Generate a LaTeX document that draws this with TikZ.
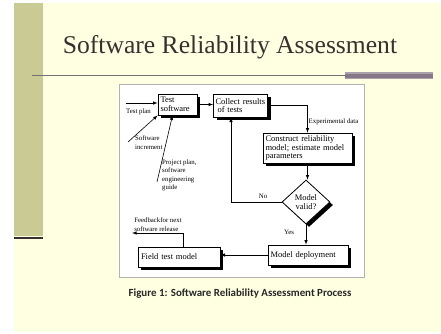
\documentclass[tikz,border=0pt]{standalone}
\usepackage{fontspec}
\setmainfont{Liberation Serif}
\newfontfamily\capfont{Carlito}
\usepackage{tikz}
\usetikzlibrary{positioning,shapes.geometric,shadows}
\definecolor{slidebg}{HTML}{FFFFE2}
\definecolor{stripe}{HTML}{CACA95}
\definecolor{titlecol}{HTML}{3A2F30}
\definecolor{barcol}{HTML}{877888}

\begin{document}
\begin{tikzpicture}[x=1pt, y=-1pt,
    box/.style={draw, thick, fill=white, align=left, inner sep=2pt,
      drop shadow={shadow xshift=3pt, shadow yshift=-3pt, fill=black, opacity=1},
      font=\fontsize{8.5}{8.8}\selectfont},
    lbl/.style={align=left, inner sep=0pt, font=\fontsize{6.8}{8.5}\selectfont},
    conn/.style={semithick, ->, >=latex}]
          \useasboundingbox (0,0) rectangle (441,333);
          \fill[white] (0,0) rectangle (441,333);
          \fill[slidebg] (14,3) rectangle (441,332);
          \fill[stripe] (14,3) rectangle (43,236);
          \fill[titlecol] (14,236.5) rectangle (43,239);
          \draw[gray!90!black, line width=1pt] (32,75) -- (345,75);
          \fill[barcol!70] (345,72) rectangle (433,79);
          \fill[barcol] (345,73.5) rectangle (433,77.5);
          \node[anchor=base, text=titlecol, font=\fontsize{25.6}{28}\selectfont] (title) at (230,53) {Software Reliability Assessment};
          \draw[black!30, fill=white] (119,84) rectangle (364,277);
          % boxes
          \node[box, minimum width=39pt, minimum height=21pt, text width=34pt] (test) at (177.5,104.5) {Test\\software};
          \node[box, minimum width=53pt, minimum height=23pt, text width=50pt] (collect) at (240.5,105.5) {Collect results\\\hspace*{2pt}of tests};
          \node[box, minimum width=89pt, minimum height=30pt, text width=84pt] (construct) at (307.5,148) {Construct reliability\\model; estimate model\\parameters};
          \node[box, diamond, aspect=1.1, minimum width=48pt, minimum height=44pt, inner sep=0pt, align=center] (valid) at (306,202) {Model\\valid?};
          \node[box, minimum width=80pt, minimum height=20pt, text width=75pt] (deploy) at (308,255) {Model deployment\\[3pt]};
          \node[box, minimum width=82pt, minimum height=20pt, text width=76pt] (field) at (179,257) {Field test model};
          % inputs
          \coordinate (tp) at (126,103);
          \coordinate (si) at (128,142);
          \coordinate (pp) at (157,182);
          \coordinate (fb) at (132,233);
          \draw[conn] (tp) -- (tp -| test.west);
          \draw[conn] (si) -- (test.south west);
          \draw[conn] (pp) -- ([xshift=-5pt]test.south);
          \node[lbl] (tplabel) at (138.5,112) {Test plan};
          \node[lbl, anchor=west] (silabel) at (135,142.5) {Software\\increment};
          \node[lbl, anchor=west] (pplabel) at (162,175.5) {Project plan,\\software\\engineering\\guide};
          % flow
          \draw[conn] (test.east) -- (test.east -| collect.west);
          \draw[conn] (collect.east) -| (construct.north);
          \node[lbl, anchor=west] (edlabel) at (308.5,122) {Experimental data};
          \draw[conn] (construct.south) -- (construct.south |- valid.north);
          \draw[conn] (valid.west) -| ([xshift=-9.5pt]collect.south);
          \node[lbl] (nolabel) at (263,196) {No};
          \draw[conn] (valid.south) -- (valid.south |- deploy.north);
          \node[lbl] (yeslabel) at (289,232) {Yes};
          \draw[conn] (deploy.west) -- (deploy.west -| field.east);
          \draw[conn] ([xshift=4pt]field.north) |- (fb);
          \node[lbl] (fblabel) at (158,224.5) {Feedbackfor next\\software release};
          \node[font=\capfont\bfseries\fontsize{10.9}{12}\selectfont, text=black!85] (caption) at (240,294) {Figure 1: Software Reliability Assessment Process};
        \end{tikzpicture}
\end{document}
